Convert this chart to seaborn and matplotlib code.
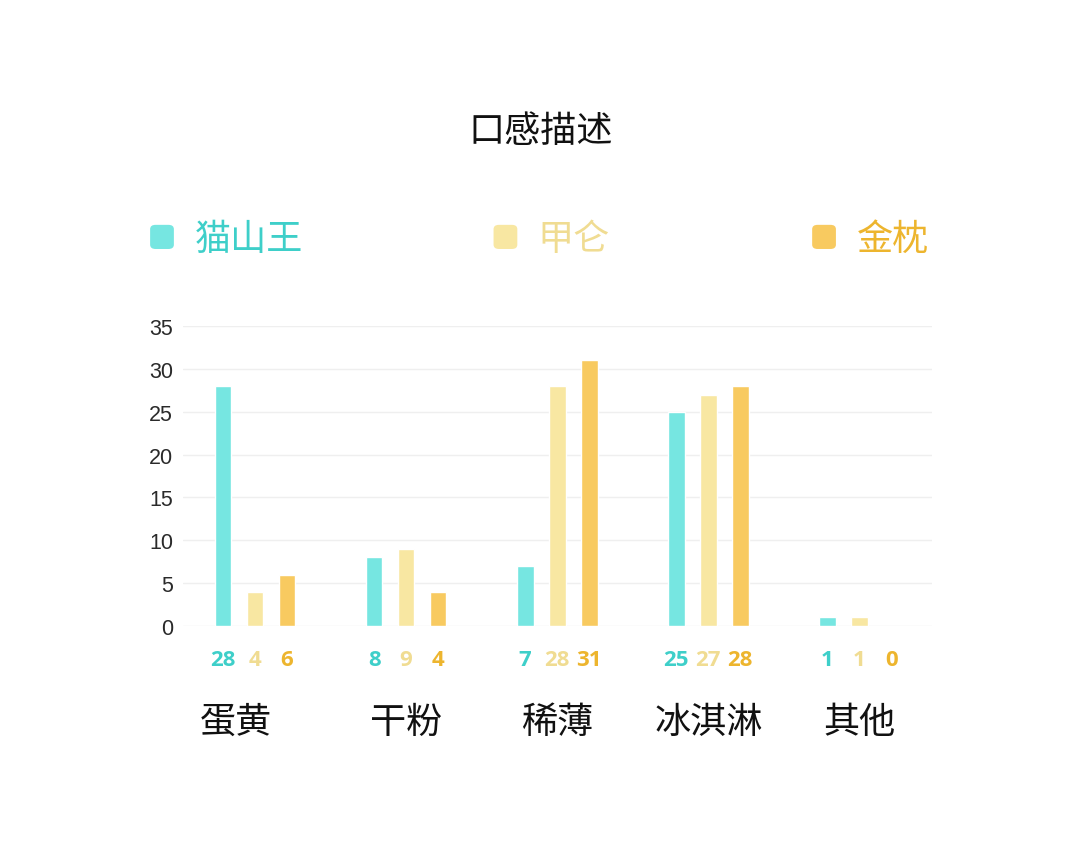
import pandas as pd
import matplotlib.pyplot as plt
import matplotlib.transforms as mtransforms
import seaborn as sns
from matplotlib.patches import FancyBboxPatch

# datos
categories = ["蛋黄", "干粉", "稀薄", "冰淇淋", "其他"]
series_names = ["猫山王", "甲仑", "金枕"]
vals_maoshanwang = [28, 8, 7, 25, 1]
vals_jialun = [4, 9, 28, 27, 1]
vals_jinzhen = [6, 4, 31, 28, 0]
y_ticks = [0, 5, 10, 15, 20, 25, 30, 35]

bar_colors = ["#76E6E1", "#F8E7A2", "#F8CA60"]
text_colors = ["#3ECFC9", "#F0DC92", "#EDB52E"]

df = pd.DataFrame({
    "category": categories * 3,
    "variety": sum([[s] * len(categories) for s in series_names], []),
    "value": vals_maoshanwang + vals_jialun + vals_jinzhen,
})

sns.set_theme(style="white")
plt.rcParams["font.family"] = ["Noto Sans CJK SC", "DejaVu Sans"]

fig = plt.figure(figsize=(10.8, 8.62), dpi=100)
ax = fig.add_axes([0.1694, 0.2726, 0.6935, 0.348])

sns.barplot(data=df, x="category", y="value", hue="variety", order=categories,
            hue_order=series_names, palette=bar_colors, width=0.636, gap=0.48,
            saturation=1, legend=False, ax=ax)

ax.set_xlim(-0.477, 4.48)
ax.set_ylim(0, 35)
ax.set_yticks(y_ticks)
ax.yaxis.grid(True, color="#EFEFEF", linewidth=1)
ax.set_axisbelow(True)
sns.despine(ax=ax, left=True, bottom=True)
ax.set_xlabel("")
ax.set_ylabel("")
ax.tick_params(axis="y", length=0, pad=7, labelsize=15.5, labelcolor="#2A2A2A")
ax.tick_params(axis="x", length=0, pad=56, labelsize=26, labelcolor="#111111")
for t in ax.get_yticklabels():
    t.set_family(["Liberation Sans", "DejaVu Sans"])

# el primer rótulo está algo desplazado a la izquierda en el original
first = ax.get_xticklabels()[0]
first.set_transform(first.get_transform() +
                    mtransforms.ScaledTranslation(-0.19, 0, fig.dpi_scale_trans))

# etiquetas de valor debajo de cada barra
for cont, col in zip(ax.containers, text_colors):
    for bar, v in zip(cont, cont.datavalues):
        ax.annotate(f"{int(v)}", (bar.get_x() + bar.get_width() / 2, 0),
                    xytext=(0, -24), textcoords="offset points",
                    ha="center", va="center", fontsize=16, fontweight="bold",
                    color=col, family=["Open Sans", "DejaVu Sans"])

fig.text(0.501, 0.847, "口感描述", ha="center", va="center", fontsize=26, color="#111111")

# leyenda manual
legend_x = [0.139, 0.457, 0.752]
for lx, name, bc, tc in zip(legend_x, series_names, bar_colors, text_colors):
    fig.patches.append(FancyBboxPatch((lx, 0.710), 0.022, 0.028,
                                      boxstyle="round,pad=0,rounding_size=0.005",
                                      transform=fig.transFigure, facecolor=bc,
                                      edgecolor="none"))
    fig.text(lx + 0.041, 0.722, name, ha="left", va="center", fontsize=26, color=tc)

fig.savefig("out.png", dpi=100, facecolor="white")
